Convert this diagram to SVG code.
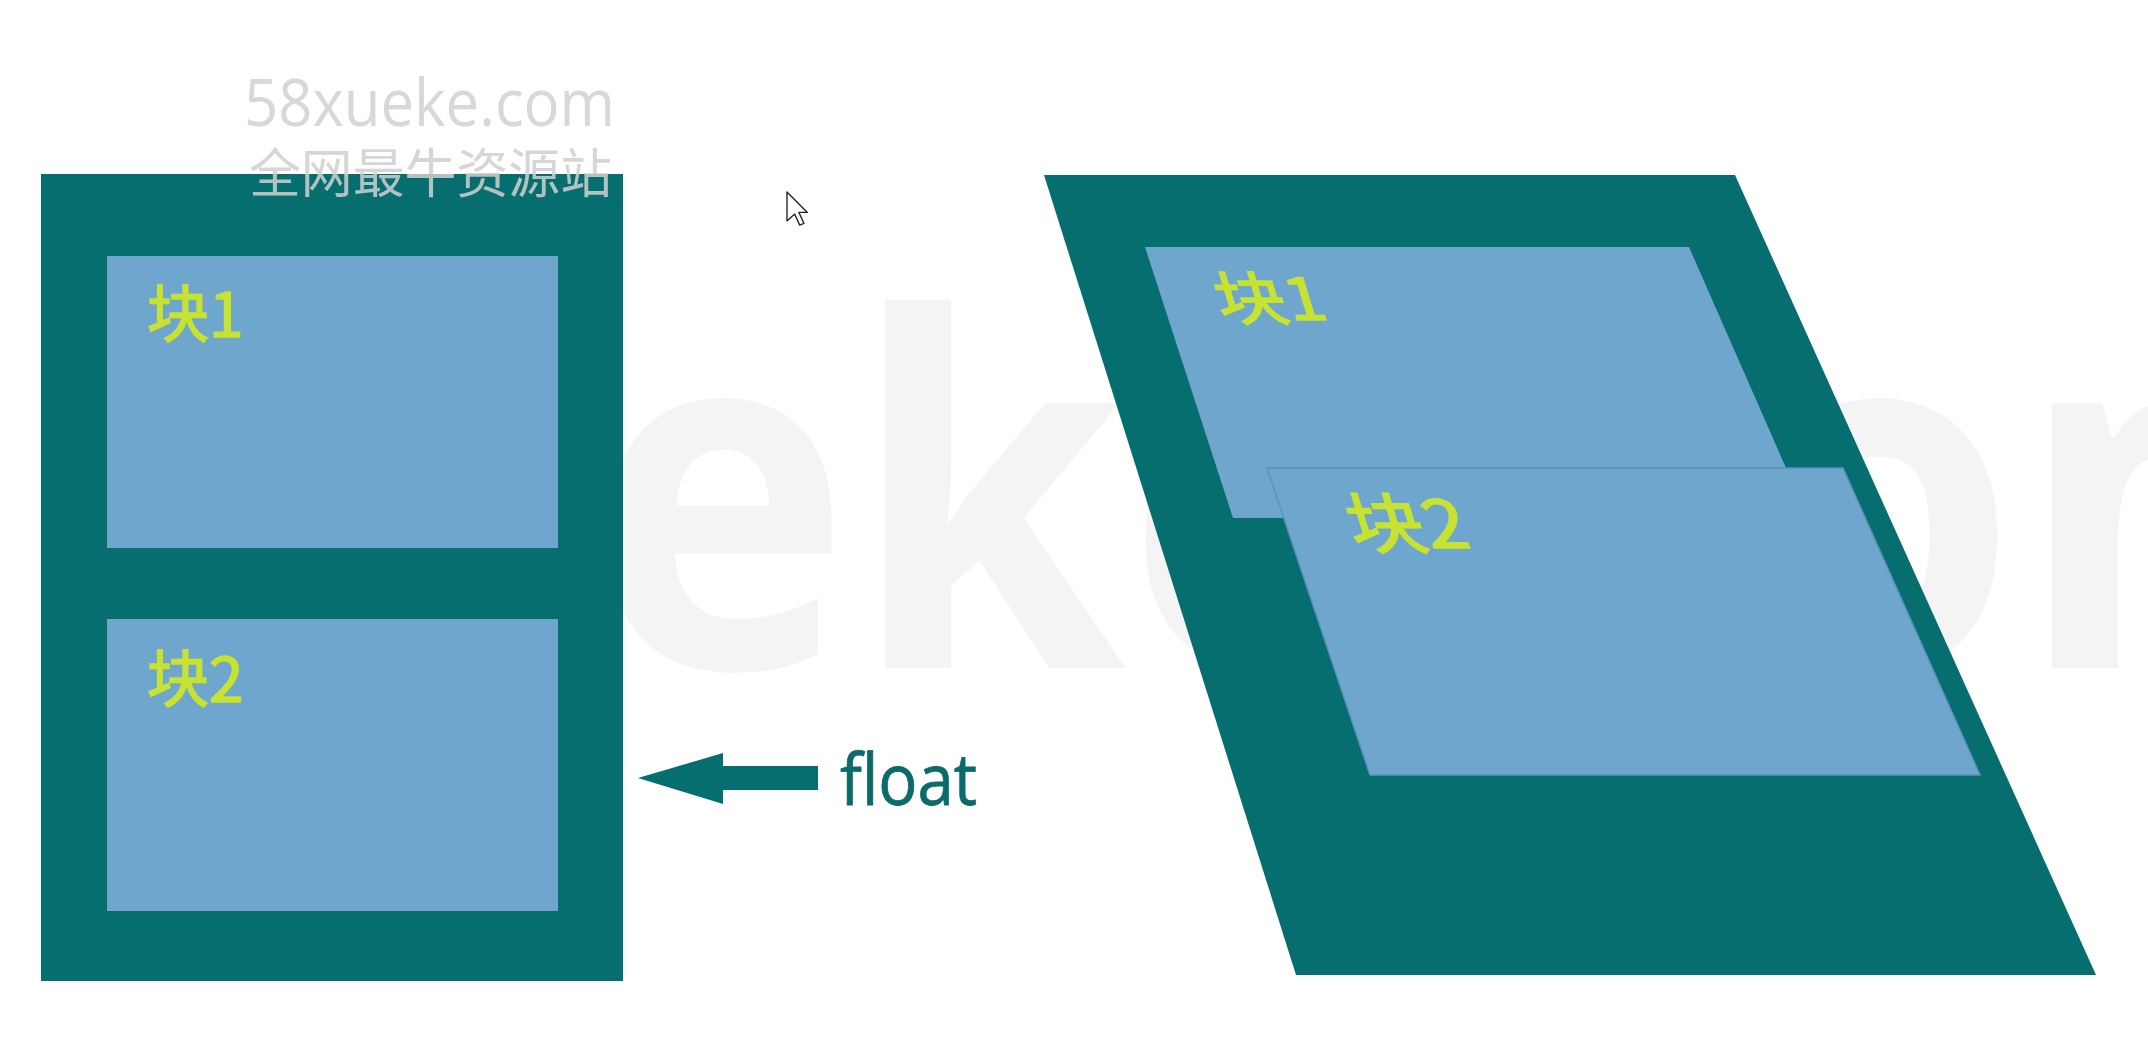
<svg xmlns="http://www.w3.org/2000/svg" width="2148" height="1062" viewBox="0 0 2148 1062">
  <style>
    .outer { fill: #066e6f; }
    .block { fill: #6ea6ce; }
    .block2r { fill: #6ea6ce; stroke: #5a93bb; stroke-width: 1.5; }
    .label { font-family: "Noto Sans CJK SC", "Noto Sans", sans-serif; fill: #c8e232; stroke: #c8e232; stroke-width: 1.6; }
    .wm { font-family: "Open Sans", "Liberation Sans", sans-serif; fill: #d8d8d8; }
    .wmcjk { font-family: "Noto Sans CJK SC", sans-serif; fill: #cfcfcf; fill-opacity: 0.86; }
    .big { font-family: "Open Sans", "Liberation Sans", sans-serif; font-weight: bold; fill: #f4f4f4; }
    .floattxt { font-family: "Open Sans", "Liberation Sans", sans-serif; fill: #0b6b6b; stroke: #0b6b6b; stroke-width: 0.8; }
  </style>
  <rect width="2148" height="1062" fill="#ffffff"/>

  <g id="background-watermark">
    <text class="big" transform="translate(40,668) scale(0.915,1)" x="0" y="0" font-size="485">xueke.com</text>
  </g>

  <g id="left-container">
    <rect class="outer" x="41" y="174" width="582" height="807"/>
  </g>
  <g id="left-block1">
    <rect class="block" x="107" y="256" width="451" height="292"/>
    <text class="label" x="147" y="337" font-size="62">块1</text>
  </g>
  <g id="left-block2">
    <rect class="block" x="107" y="619" width="451" height="292"/>
    <text class="label" x="147" y="702" font-size="62">块2</text>
  </g>

  <g id="connectors">
    <polygon fill="#066e6f" points="638,778 723,753 723,766 818,766 818,790 723,790 723,804"/>
  </g>
  <g id="float-label">
    <text class="floattxt" x="840" y="805" font-size="71" textLength="137" lengthAdjust="spacingAndGlyphs">float</text>
  </g>

  <g id="right-container">
    <polygon class="outer" points="1044,175 1735,175 2096,975 1296,975"/>
  </g>
  <g id="right-block1">
    <polygon class="block" points="1145,247 1689,247 1808,518 1233,518"/>
    <text class="label" transform="translate(1222,320) skewX(17) scale(1.2,1)" font-size="58">块1</text>
  </g>
  <g id="right-block2">
    <polygon class="block2r" points="1267,468 1843,468 1980,775 1370,775"/>
    <text class="label" transform="translate(1355,548) skewX(17) scale(1.15,1)" font-size="66">块2</text>
  </g>

  <g id="watermark">
    <text class="wm" x="244" y="126" font-size="66" textLength="371" lengthAdjust="spacingAndGlyphs">58xueke.com</text>
    <text class="wmcjk" x="249" y="193" font-size="53" textLength="363" lengthAdjust="spacingAndGlyphs">全网最牛资源站</text>
  </g>

  <g id="cursor">
    <path d="M0,0 L0,17 L4.5,13 L7.5,19.5 L10,18.5 L7,12 L12,12 Z" transform="translate(787,192) scale(1.7)" fill="#ffffff" stroke="#222222" stroke-width="0.8" stroke-linejoin="round"/>
  </g>
</svg>
